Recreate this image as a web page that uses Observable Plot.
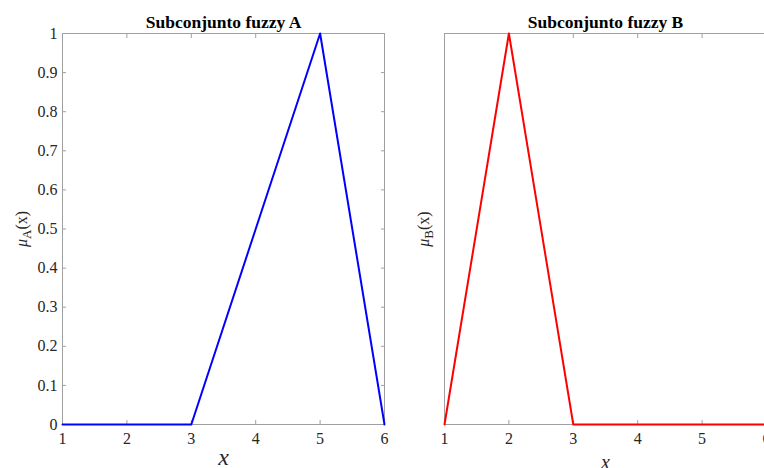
<!DOCTYPE html>
<html>
<head>
<meta charset="utf-8">
<script src="https://cdn.jsdelivr.net/npm/d3@7"></script>
<script src="https://cdn.jsdelivr.net/npm/@observablehq/plot@0.6"></script>
<style>
  html, body { margin: 0; padding: 0; background: #fff; }
  #wrap { position: relative; width: 764px; height: 468px; overflow: hidden; background: #fff; }
  #wrap svg { position: absolute; top: 0; }
</style>
</head>
<body>
<div id="wrap"></div>
<script>
// Universe of discourse and membership degrees
const xValues = [1, 2, 3, 4, 5, 6];
const muA = [0, 0, 0, 0.5, 1, 0];
const muB = [0, 1, 0, 0, 0, 0];

// Axis ticks
const xTicks = [1, 2, 3, 4, 5, 6];
const xTickLabels = ["1", "2", "3", "4", "5", "6"];
const yTicks = [0, 0.1, 0.2, 0.3, 0.4, 0.5, 0.6, 0.7, 0.8, 0.9, 1];
const yTickLabels = ["0", "0.1", "0.2", "0.3", "0.4", "0.5", "0.6", "0.7", "0.8", "0.9", "1"];

const titles = ["Subconjunto fuzzy A", "Subconjunto fuzzy B"];
const setNames = ["A", "B"];
const colors = ["#0000ff", "#ff0000"];

const axisColor = "#a0a0a0";
const textColor = "#262626";
const serif = "'Liberation Serif', 'Times New Roman', serif";

function panel({mu, title, color, width, marginLeft, marginRight, showY, xLabelSize, xLabelDy}) {
  const rows = xValues.map((x, i) => ({x, mu: mu[i]}));
  const marks = [
    Plot.frame({stroke: axisColor, strokeWidth: 1}),
    // inward tick marks on bottom and top
    Plot.axisX({anchor: "bottom", ticks: xTicks, tickSize: -4, tickFormat: () => "", label: null, stroke: axisColor}),
    Plot.axisX({anchor: "top", ticks: xTicks, tickSize: -4, tickFormat: () => "", label: null, stroke: axisColor}),
    Plot.axisX({anchor: "bottom", ticks: xTicks, tickSize: 0, tickPadding: 8, tickFormat: (d, i) => xTickLabels[i], label: null, fill: textColor})
  ];
  if (showY) {
    marks.push(
      Plot.axisY({anchor: "left", ticks: yTicks, tickSize: -4, tickFormat: () => "", label: null, stroke: axisColor}),
      Plot.axisY({anchor: "right", ticks: yTicks, tickSize: -4, tickFormat: () => "", label: null, stroke: axisColor}),
      Plot.axisY({anchor: "left", ticks: yTicks, tickSize: 0, tickPadding: 5, tickFormat: (d, i) => yTickLabels[i], label: null, fill: textColor})
    );
  }
  marks.push(
    Plot.line(rows, {x: "x", y: "mu", stroke: color, strokeWidth: 2}),
    Plot.text([title], {frameAnchor: "top", lineAnchor: "middle", dy: -11, fontWeight: "bold", fontSize: 17.5, fill: "#000"}),
    Plot.text(["x"], {frameAnchor: "bottom", lineAnchor: "middle", dy: xLabelDy, fontStyle: "italic", fontSize: xLabelSize, fill: textColor})
  );
  return Plot.plot({
    width,
    height: 468,
    marginTop: 33,
    marginBottom: 44,
    marginLeft,
    marginRight,
    x: {domain: [1, 6], axis: null},
    y: {domain: [0, 1], axis: null},
    style: {fontFamily: serif, fontSize: "16px", color: textColor, background: "transparent", overflow: "visible"},
    marks
  });
}

function addYLabel(svg, setName, cx, cy) {
  const t = d3.select(svg).append("text")
    .attr("transform", `translate(${cx},${cy}) rotate(-90)`)
    .attr("text-anchor", "middle")
    .attr("font-family", serif)
    .attr("font-size", 16)
    .attr("fill", textColor);
  t.append("tspan").attr("font-style", "italic").text("μ");
  t.append("tspan").attr("dy", 4).attr("font-size", 13).text(setName);
  t.append("tspan").attr("dy", -4).text("(x)");
}

const wrap = document.getElementById("wrap");

const leftSvg = panel({mu: muA, title: titles[0], color: colors[0], width: 420, marginLeft: 62, marginRight: 36, showY: true, xLabelSize: 24, xLabelDy: 33});
leftSvg.style.left = "0px";
addYLabel(leftSvg, setNames[0], 27, 229);
wrap.appendChild(leftSvg);

const rightSvg = panel({mu: muB, title: titles[1], color: colors[1], width: 400, marginLeft: 44, marginRight: 34, showY: false, xLabelSize: 20, xLabelDy: 38});
rightSvg.style.left = "400px";
addYLabel(rightSvg, setNames[1], 29, 229);
wrap.appendChild(rightSvg);
</script>
</body>
</html>
